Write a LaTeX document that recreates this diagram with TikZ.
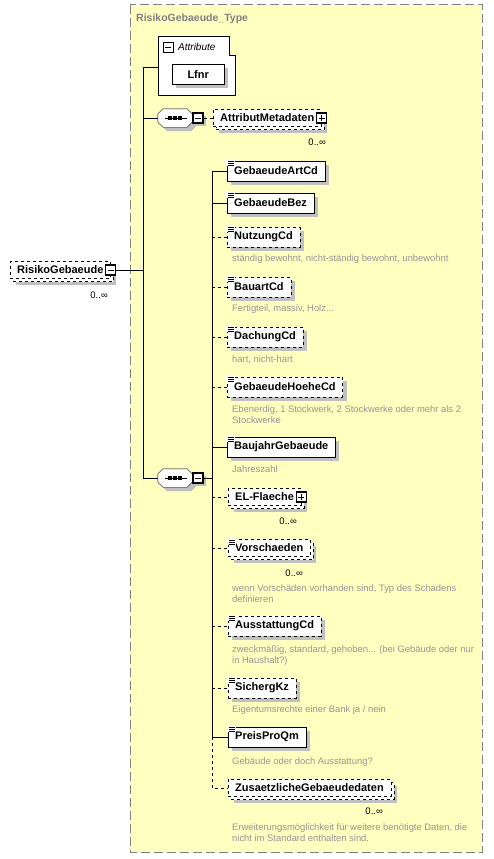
\documentclass[tikz,border=0pt]{standalone}
\usepackage{fontspec}
\setmainfont{Liberation Sans}
\usetikzlibrary{shadows}

\definecolor{typgelb}{RGB}{255,255,192}
\definecolor{typrand}{RGB}{128,128,128}
\definecolor{schatten}{RGB}{192,192,192}
\definecolor{notizgrau}{RGB}{150,150,150}

% Symbol fuer einfache Typen (drei Striche links oben am Kasten)
\newcommand{\einfachsymbol}[1]{%
  \fill[white] ([shift={(-0.6,-1.2)}]#1.north west) rectangle ++(8.2,6.8);
  \foreach \dy in {0.6,2.6,4.6}
    \draw[line width=0.7pt] ([shift={(0.8,\dy)}]#1.north west) -- ++(6,0);
}

% Achteck einer Sequenz um den Knoten #1
\newcommand{\achteck}[1]{%
  ([xshift=5pt]#1.north west) -- ([xshift=-5pt]#1.north east)
  -- ([yshift=-5pt]#1.north east) -- ([yshift=5pt]#1.south east)
  -- ([xshift=-5pt]#1.south east) -- ([xshift=5pt]#1.south west)
  -- ([yshift=5pt]#1.south west) -- ([yshift=-5pt]#1.north west) -- cycle}

\begin{document}
\begin{tikzpicture}[
    x=1pt, y=-1pt,           % Pixelraster, y nach unten
    elembase/.style={draw, fill=white, anchor=west,
        font=\fontsize{11}{13}\selectfont\bfseries,
        minimum height=20pt, inner xsep=7pt, inner ysep=0pt},
    elem/.style={elembase,
        drop shadow={shadow xshift=4pt, shadow yshift=-4pt, fill=schatten, opacity=1}},
    optelem/.style={elem, dashed},
    multielem/.style={elembase, dashed, minimum height=17pt,
        general shadow={shadow xshift=6pt, shadow yshift=-6pt, fill=schatten},
        general shadow={shadow xshift=3pt, shadow yshift=-3pt, draw, dashed, fill=white}},
    knopf/.style={draw, fill=white, line width=1.1pt, minimum size=10pt, inner sep=0pt},
    minusknopf/.style={knopf, path picture={
        \draw[line width=0.9pt] ([xshift=2pt]path picture bounding box.west)
            -- ([xshift=-2pt]path picture bounding box.east);}},
    plusknopf/.style={knopf, path picture={
        \draw[line width=0.9pt] ([xshift=2pt]path picture bounding box.west)
            -- ([xshift=-2pt]path picture bounding box.east);
        \draw[line width=0.9pt] ([yshift=-2pt]path picture bounding box.north)
            -- ([yshift=2pt]path picture bounding box.south);}},
    folge/.style={minimum width=34pt, minimum height=18pt, inner sep=0pt},
    notiz/.style={text=notizgrau, font=\fontsize{9.4}{11}\selectfont,
        anchor=north west, align=left, inner sep=0pt},
    anzahl/.style={font=\fontsize{9.5}{11}\selectfont, anchor=base east, inner sep=0pt}
]
    \useasboundingbox (0,0) rectangle (493,859);

    % --- 1. Typ-Kasten ---
    \draw[typrand, fill=typgelb, line width=1pt, dash pattern=on 9pt off 4pt]
        (130,5) rectangle (482,852);
    \node[font=\fontsize{10.5}{12}\selectfont\bfseries, text=typrand,
          anchor=base west, inner sep=0pt] (typtitel) at (136,22) {RisikoGebaeude\_Type};

    % --- 2. Wurzelelement ---
    \node[multielem] (risiko) at (10,270) {RisikoGebaeude\hspace{5pt}};
    \node[minusknopf] (rminus) at (risiko.east) {};
    \node[anzahl] (risikoanz) at (108,298) {0..∞};

    % --- 3. Attribute ---
    \draw[fill=white] (158,36) -- (229,36) -- (229,55) -- (235,55)
        -- (235,95) -- (158,95) -- cycle;
    \node[minusknopf, line width=0.9pt] (attrminus) at (168,47) {};
    \node[font=\fontsize{10}{12}\selectfont\itshape, anchor=base west,
          inner sep=0pt] (attrtitel) at (178,51) {Attribute};
    \node[elem, anchor=north west, minimum width=52pt] (lfnr) at (172,64) {Lfnr};
    \coordinate (attrein) at (158,67);

    % --- 4. Sequenzen ---
    \node[folge] (folge1) at (175,118) {};
    \node[folge] (folge2) at (175,478) {};
    \foreach \f in {folge1, folge2} {
        \fill[schatten, transform canvas={shift={(4pt,-4pt)}}] \achteck{\f};
        \draw[fill=white] \achteck{\f};
        \draw[line width=0.8pt] ([xshift=7pt]\f.west) -- ([xshift=-5pt]\f.east);
        \foreach \dx in {-5,0,5}
            \fill ([shift={(\dx-1.7,-1.7)}]\f.center) rectangle ++(3.4,3.4);
    }
    \node[minusknopf, drop shadow={shadow xshift=3pt, shadow yshift=-3pt,
          fill=schatten, opacity=1}] (f1minus) at (198,118) {};
    \node[minusknopf, drop shadow={shadow xshift=3pt, shadow yshift=-3pt,
          fill=schatten, opacity=1}] (f2minus) at (198,478) {};

    \node[multielem] (attrmeta) at (213,118) {AttributMetadaten\hspace{12pt}};
    \node[plusknopf] (ampplus) at (attrmeta.east) {};
    \node[anzahl] (attrmetaanz) at (326,145) {0..∞};

    % --- 5. Kindelemente ---
    \node[elem]    (artcd)   at (227,171) {GebaeudeArtCd};
    \node[elem]    (bez)     at (227,203) {GebaeudeBez};
    \node[optelem] (nutzung) at (227,237) {NutzungCd};
    \node[optelem] (bauart)  at (227,287) {BauartCd};
    \node[optelem] (dachung) at (227,337) {DachungCd};
    \node[optelem] (hoehe)   at (227,387) {GebaeudeHoeheCd};
    \node[elem]    (baujahr) at (227,447) {BaujahrGebaeude};
    \node[multielem] (elfl)  at (228,497) {EL-Flaeche\hspace{5pt}};
    \node[plusknopf] (elplus) at (elfl.east) {};
    \node[multielem] (vorsch) at (228,548) {Vorschaeden};
    \node[optelem] (ausst)   at (228,626) {AusstattungCd};
    \node[optelem] (sicherg) at (228,688) {SichergKz};
    \node[elem]    (preis)   at (228,737) {PreisProQm};
    \node[multielem] (zusatz) at (228,788) {ZusaetzlicheGebaeudedaten};

    \foreach \k in {artcd, bez, nutzung, bauart, dachung, hoehe, baujahr,
                    vorsch, ausst, sicherg, preis} {
        \einfachsymbol{\k}
    }

    \node[anzahl] (elanz)     at (297,524) {0..∞};
    \node[anzahl] (vorschanz) at (303,576) {0..∞};
    \node[anzahl] (zusatzanz) at (383,814) {0..∞};

    % Anmerkungen
    \node[notiz] (nutzungtxt) at (232,254) {ständig bewohnt, nicht-ständig bewohnt, unbewohnt};
    \node[notiz] (bauarttxt)  at (232,304) {Fertigteil, massiv, Holz...};
    \node[notiz] (dachungtxt) at (232,355) {hart, nicht-hart};
    \node[notiz] (hoehetxt)   at (232,405) {Ebenerdig, 1 Stockwerk, 2 Stockwerke oder mehr als 2\\Stockwerke};
    \node[notiz] (baujahrtxt) at (232,465) {Jahreszahl};
    \node[notiz] (vorschtxt)  at (232,584) {wenn Vorschäden vorhanden sind, Typ des Schadens\\definieren};
    \node[notiz] (ausstxt)    at (232,645) {zweckmäßig, standard, gehoben... (bei Gebäude oder nur\\in Haushalt?)};
    \node[notiz] (sicherxt)   at (232,705) {Eigentumsrechte einer Bank ja / nein};
    \node[notiz] (preistxt)   at (232,757) {Gebäude oder doch Ausstattung?};
    \node[notiz] (zusatztxt)  at (232,823) {Erweiterungsmöglichkeit für weitere benötigte Daten, die\\nicht im Standard enthalten sind.};

    % --- 6. Verbindungen ---
    \coordinate (stamm) at (143,0);
    \coordinate (ast) at (212,0);

    \draw (rminus.east) -- (rminus.east -| stamm);
    \draw (attrein) -- (attrein -| stamm) |- (folge2.west);
    \draw (folge1.west -| stamm) -- (folge1.west);
    \draw[dashed] (f1minus.east) -- (attrmeta.west);
    \draw (f2minus.east) -- (f2minus.east -| ast);
    \draw (ast |- artcd.west) -- (ast |- preis.west);
    \foreach \k in {artcd, bez, baujahr, preis}
        \draw (ast |- \k.west) -- (\k.west);
    \foreach \k in {nutzung, bauart, dachung, hoehe, elfl, vorsch, ausst, sicherg}
        \draw[dashed] (ast |- \k.west) -- (\k.west);
    \draw[dashed] (ast |- preis.west) |- (zusatz.west);

\end{tikzpicture}
\end{document}
